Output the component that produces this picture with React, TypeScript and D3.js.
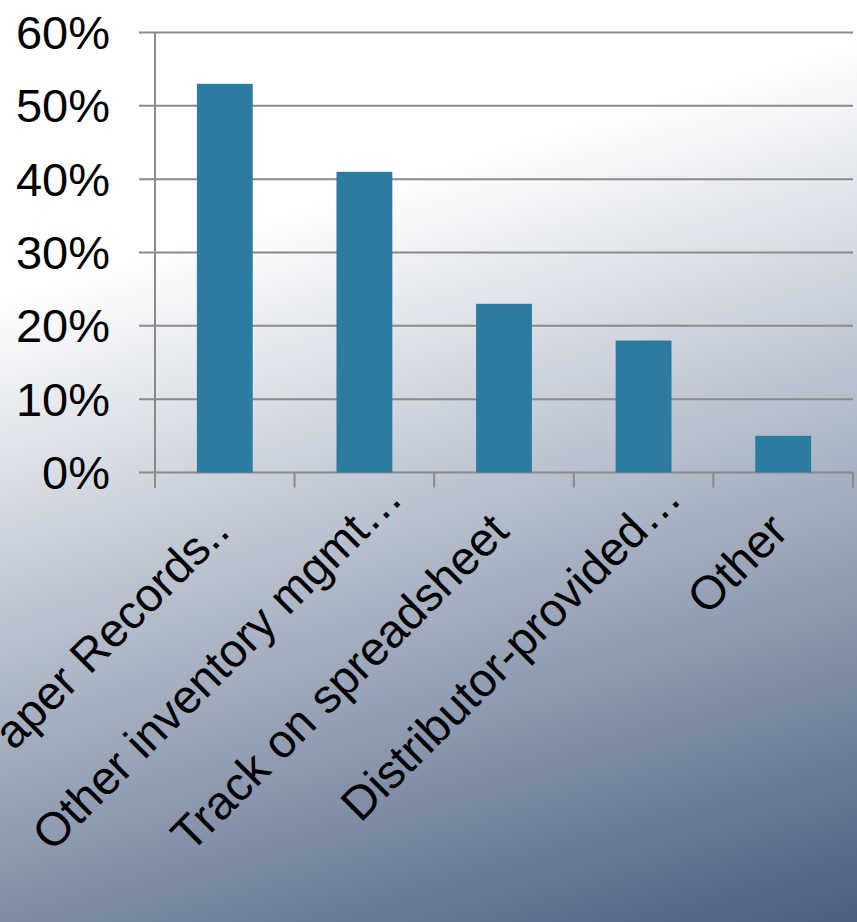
import React from "react";
import * as d3 from "d3";

const categories = [
  "Paper Records..",
  "Other inventory mgmt…",
  "Track on spreadsheet",
  "Distributor-provided…",
  "Other",
];
const values = [0.53, 0.41, 0.23, 0.18, 0.05];
const yTicks = [0, 0.1, 0.2, 0.3, 0.4, 0.5, 0.6];

const W = 857;
const H = 922;
const FONT = "'Liberation Sans', Arial, sans-serif";

export default function App() {
  const left = 155;
  const right = 853;
  const top = 32.5;
  const bottom = 472.5;

  const x = d3.scaleBand<string>().domain(categories).range([left, right]).padding(0);
  const y = d3.scaleLinear().domain([0, 0.6]).range([bottom, top]);
  const bw = x.bandwidth();
  const fmt = d3.format(".0%");

  const tickXs = categories.map((c) => x(c) as number).concat([right]);

  return (
    <svg
      width={W}
      height={H}
      style={{ position: "absolute", left: 0, top: 0, display: "block" }}
      fontFamily={FONT}
    >
      <defs>
        <linearGradient id="bg" gradientUnits="userSpaceOnUse" x1={82} y1={275} x2={324} y2={1082}>
          <stop offset="0" stopColor="#ffffff" />
          <stop offset="1" stopColor="#4a5e80" />
        </linearGradient>
      </defs>
      <rect x={0} y={0} width={W} height={H} fill="url(#bg)" />

      {/* gridlines */}
      {yTicks.map((t) => (
        <line
          key={"g" + t}
          x1={139}
          x2={right}
          y1={y(t)}
          y2={y(t)}
          stroke="#8a8a8a"
          strokeWidth={2}
        />
      ))}

      {/* y axis line */}
      <line x1={left} x2={left} y1={top} y2={bottom + 15} stroke="#8a8a8a" strokeWidth={2} />

      {/* x ticks */}
      {tickXs.map((tx, i) => (
        <line key={"t" + i} x1={tx} x2={tx} y1={bottom} y2={bottom + 15} stroke="#8a8a8a" strokeWidth={2} />
      ))}

      {/* bars */}
      {categories.map((c, i) => {
        const cx = (x(c) as number) + bw / 2;
        const w = bw * 0.4;
        return (
          <rect
            key={"b" + c}
            x={cx - w / 2}
            y={y(values[i])}
            width={w}
            height={bottom - y(values[i])}
            fill="#2c7ba0"
          />
        );
      })}

      {/* y labels */}
      {yTicks.map((t) => (
        <text
          key={"yl" + t}
          x={110}
          y={y(t)}
          dy="0.35em"
          textAnchor="end"
          fontSize={47}
          fill="#000"
        >
          {fmt(t)}
        </text>
      ))}

      {/* x labels */}
      {categories.map((c) => {
        const cx = (x(c) as number) + bw / 2;
        const ax = cx + 7;
        const ay = bottom + 61;
        const truncated = c.endsWith("…");
        const body = truncated ? c.slice(0, -1) : c;
        return (
          <g key={"xl" + c} transform={`translate(${ax},${ay}) rotate(-45)`}>
            <text x={0} y={0} textAnchor="end" fontSize={47} fill="#000">
              {body}
            </text>
            {truncated && (
              <text x={0} y={0} textAnchor="start" fontSize={47} fill="#000">
                …
              </text>
            )}
          </g>
        );
      })}
    </svg>
  );
}
